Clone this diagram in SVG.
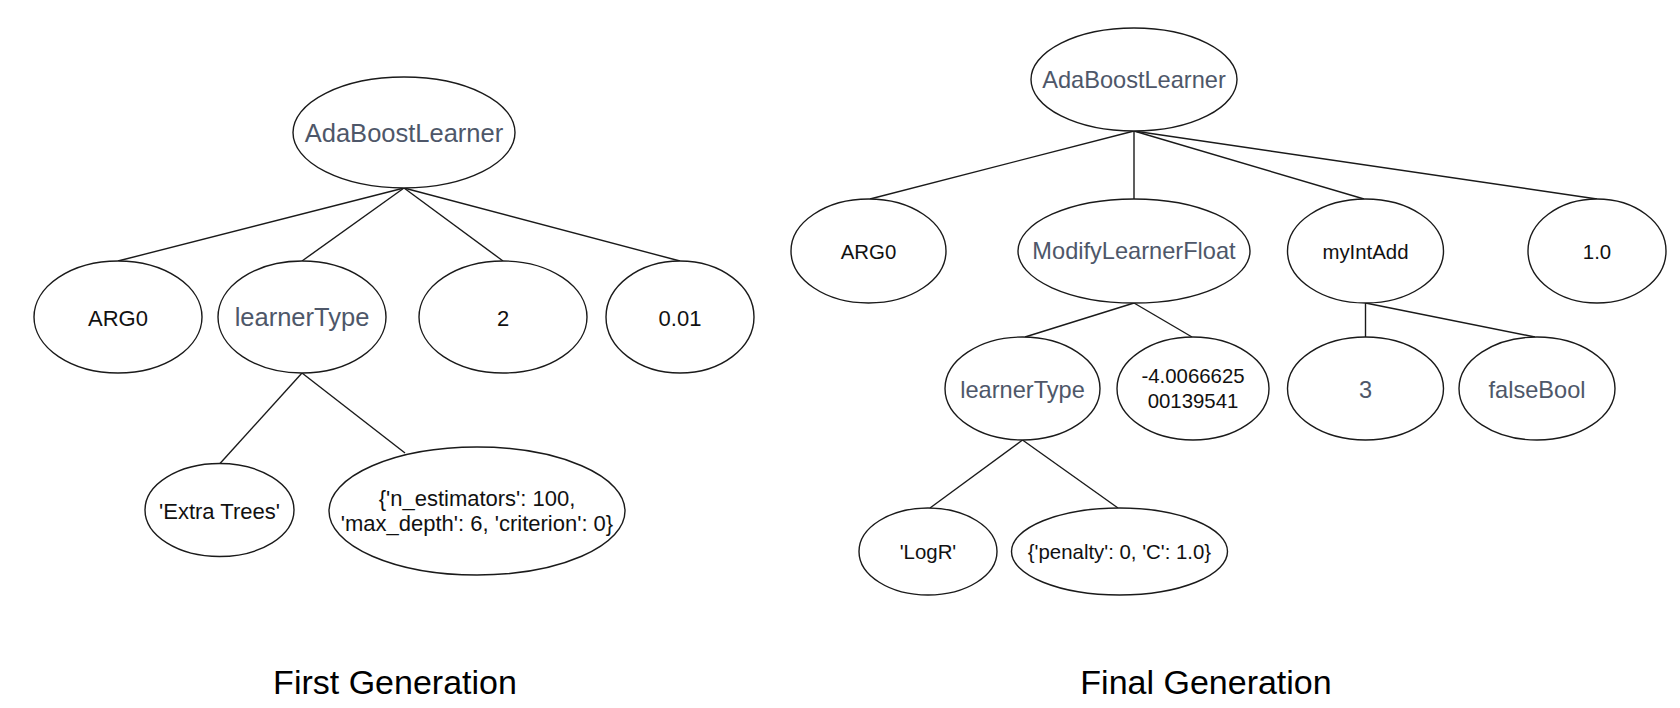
<svg xmlns="http://www.w3.org/2000/svg" width="1680" height="708" viewBox="0 0 1680 708">
<style>
  .node ellipse { fill: #ffffff; stroke: #1a1a1a; stroke-width: 1.4; }
  .edges line { stroke: #1a1a1a; stroke-width: 1.4; }
  text { font-family: "Liberation Sans", Arial, Helvetica, sans-serif; text-anchor: middle; }
  .k1 { fill: #111111; font-size: 22px; }
  .b1 { fill: #4e5769; font-size: 25.5px; }
  .k2 { fill: #111111; font-size: 20.4px; }
  .b2 { fill: #4e5769; font-size: 23.6px; }
  .cap { fill: #000000; font-size: 34px; }
</style>
<rect width="1680" height="708" fill="#ffffff"/>

<g id="edges" class="edges">
  <!-- first generation -->
  <line x1="404" y1="188" x2="118" y2="261"/>
  <line x1="404" y1="188" x2="302" y2="261"/>
  <line x1="404" y1="188" x2="503" y2="261"/>
  <line x1="404" y1="188" x2="680" y2="261"/>
  <line x1="302" y1="373" x2="220" y2="463.5"/>
  <line x1="302" y1="373" x2="405" y2="453"/>
  <!-- final generation -->
  <line x1="1134" y1="131" x2="870" y2="199"/>
  <line x1="1134" y1="131" x2="1134" y2="199"/>
  <line x1="1134" y1="131" x2="1364" y2="199"/>
  <line x1="1134" y1="131" x2="1597" y2="199"/>
  <line x1="1134" y1="303" x2="1025" y2="337"/>
  <line x1="1134" y1="303" x2="1192" y2="337"/>
  <line x1="1365.5" y1="303" x2="1365.5" y2="337"/>
  <line x1="1365.5" y1="303" x2="1535" y2="337"/>
  <line x1="1022.5" y1="440" x2="930" y2="508"/>
  <line x1="1022.5" y1="440" x2="1118" y2="508"/>
</g>

<!-- First Generation tree -->
<g id="fg-root" class="node">
  <ellipse cx="404" cy="132.5" rx="111" ry="55.5"/>
  <text class="b1" x="404" y="142">AdaBoostLearner</text>
</g>
<g id="fg-arg0" class="node">
  <ellipse cx="118" cy="317" rx="84" ry="56"/>
  <text class="k1" x="118" y="326">ARG0</text>
</g>
<g id="fg-learnerType" class="node">
  <ellipse cx="302" cy="317" rx="84" ry="56"/>
  <text class="b1" x="302" y="326">learnerType</text>
</g>
<g id="fg-2" class="node">
  <ellipse cx="503" cy="317" rx="84" ry="56"/>
  <text class="k1" x="503" y="326">2</text>
</g>
<g id="fg-001" class="node">
  <ellipse cx="680" cy="317" rx="74" ry="56"/>
  <text class="k1" x="680" y="326">0.01</text>
</g>
<g id="fg-extratrees" class="node">
  <ellipse cx="219.5" cy="510" rx="74.5" ry="46.5"/>
  <text class="k1" x="219.5" y="519">'Extra Trees'</text>
</g>
<g id="fg-params" class="node">
  <ellipse cx="477" cy="511" rx="148" ry="64"/>
  <text class="k1" x="477" y="506">{'n_estimators': 100,</text>
  <text class="k1" x="477" y="531">'max_depth': 6, 'criterion': 0}</text>
</g>

<!-- Final Generation tree -->
<g id="ff-root" class="node">
  <ellipse cx="1134" cy="79.5" rx="103" ry="51.5"/>
  <text class="b2" x="1134" y="88">AdaBoostLearner</text>
</g>
<g id="ff-arg0" class="node">
  <ellipse cx="868.5" cy="251" rx="77.5" ry="52"/>
  <text class="k2" x="868.5" y="258.5">ARG0</text>
</g>
<g id="ff-modify" class="node">
  <ellipse cx="1134" cy="251" rx="116" ry="52"/>
  <text class="b2" x="1134" y="259">ModifyLearnerFloat</text>
</g>
<g id="ff-myintadd" class="node">
  <ellipse cx="1365.5" cy="251" rx="78" ry="52"/>
  <text class="k2" x="1365.5" y="258.5">myIntAdd</text>
</g>
<g id="ff-10" class="node">
  <ellipse cx="1597" cy="251" rx="69" ry="52"/>
  <text class="k2" x="1597" y="258.5">1.0</text>
</g>
<g id="ff-learnerType" class="node">
  <ellipse cx="1022.5" cy="388.5" rx="77.5" ry="51.5"/>
  <text class="b2" x="1022.5" y="397.5">learnerType</text>
</g>
<g id="ff-float" class="node">
  <ellipse cx="1193" cy="388.5" rx="76" ry="51.5"/>
  <text class="k2" x="1193" y="383">-4.0066625</text>
  <text class="k2" x="1193" y="408">00139541</text>
</g>
<g id="ff-3" class="node">
  <ellipse cx="1365.5" cy="388.5" rx="78" ry="51.5"/>
  <text class="b2" x="1365.5" y="397.5">3</text>
</g>
<g id="ff-falsebool" class="node">
  <ellipse cx="1537" cy="388.5" rx="78" ry="51.5"/>
  <text class="b2" x="1537" y="397.5">falseBool</text>
</g>
<g id="ff-logr" class="node">
  <ellipse cx="928" cy="551.5" rx="69" ry="43.5"/>
  <text class="k2" x="928" y="558.5">'LogR'</text>
</g>
<g id="ff-params" class="node">
  <ellipse cx="1119.5" cy="551.5" rx="108" ry="43.5"/>
  <text class="k2" x="1119.5" y="558.5">{'penalty': 0, 'C': 1.0}</text>
</g>

<g id="captions">
  <text class="cap" x="395" y="694">First Generation</text>
  <text class="cap" x="1206" y="694">Final Generation</text>
</g>
</svg>
